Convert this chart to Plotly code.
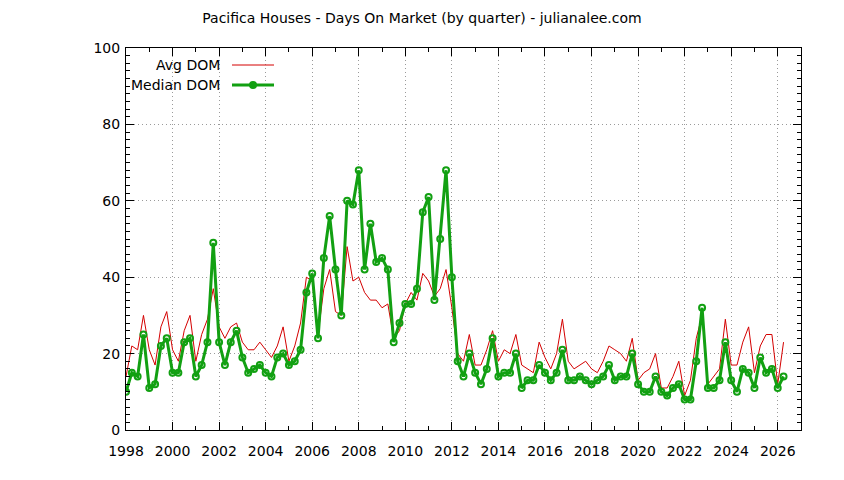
import plotly.graph_objects as go

# Quarterly data, first quarter of 1998 through second quarter of 2026
start_year = 1998
median_dom = [10, 15, 14, 25, 11, 12, 22, 24, 15, 15, 23, 24, 14, 17, 23, 49, 23, 17, 23, 26,
              19, 15, 16, 17, 15, 14, 19, 20, 17, 18, 21, 36, 41, 24, 45, 56, 42, 30, 60, 59,
              68, 42, 54, 44, 45, 42, 23, 28, 33, 33, 37, 57, 61, 34, 50, 68, 40, 18, 14, 20,
              15, 12, 16, 24, 14, 15, 15, 20, 11, 13, 13, 17, 15, 13, 15, 21, 13, 13, 14, 13,
              12, 13, 14, 17, 13, 14, 14, 20, 12, 10, 10, 14, 10, 9, 11, 12, 8, 8, 18, 32,
              11, 11, 13, 23, 13, 10, 16, 15, 11, 19, 15, 16, 11, 14]
avg_dom = [14, 22, 21, 30, 21, 17, 27, 31, 21, 18, 26, 30, 18, 25, 29, 37, 27, 24, 27, 28,
           23, 21, 21, 23, 21, 19, 22, 27, 18, 22, 28, 40, 39, 25, 37, 42, 31, 30, 48, 39,
           40, 36, 34, 34, 32, 33, 24, 26, 33, 36, 34, 41, 39, 35, 37, 42, 32, 20, 18, 25,
           17, 17, 21, 26, 18, 21, 20, 25, 17, 16, 15, 23, 19, 16, 20, 29, 18, 16, 17, 18,
           16, 15, 18, 22, 21, 20, 18, 24, 13, 15, 16, 20, 11, 11, 14, 18, 9, 13, 24, 30,
           12, 14, 16, 29, 17, 17, 23, 27, 15, 22, 25, 25, 12, 23]
quarters = [start_year + q / 4 for q in range(len(median_dom))]

x_ticks = list(range(1998, 2027, 2))
y_ticks = list(range(0, 101, 20))
title = "Pacifica Houses - Days On Market (by quarter) - julianalee.com"
series_names = ["Avg DOM", "Median DOM"]

RED = "#d40000"
GREEN = "#12a012"
FONT = "DejaVu Sans"

fig = go.Figure()
fig.add_trace(go.Scatter(x=quarters, y=avg_dom, mode="lines", name=series_names[0],
                         line=dict(color=RED, width=1), showlegend=False))
fig.add_trace(go.Scatter(x=quarters, y=median_dom, mode="lines+markers", name=series_names[1],
                         line=dict(color=GREEN, width=3),
                         marker=dict(symbol="circle-open", size=6, color=GREEN,
                                     line=dict(width=2, color=GREEN)),
                         showlegend=False))

axis_common = dict(showline=True, linecolor="black", linewidth=1, mirror="allticks",
                   ticks="inside", tickcolor="black", tickfont=dict(family=FONT, size=14, color="black"),
                   showgrid=True, gridcolor="#9a9a9a", griddash="1px,3px", gridwidth=1, zeroline=False)

fig.update_xaxes(range=[1998, 2027], tickvals=x_ticks, ticklen=8, ticklabelstandoff=8,
                 minor=dict(dtick=1, tick0=1998, ticks="inside", ticklen=4, tickcolor="black", showgrid=False),
                 **axis_common)
fig.update_yaxes(range=[0, 100], tickvals=y_ticks, ticklen=8, ticklabelstandoff=2,
                 minor=dict(dtick=2, tick0=0, ticks="inside", ticklen=4, tickcolor="black", showgrid=False),
                 **axis_common)

# manual legend (text left of sample, as in reference)
def px2x(px):
    return (px - 126) / 675

def py2y(py):
    return (430 - py) / 382

legend_rows = [(series_names[0], 65, RED, 1, False), (series_names[1], 85, GREEN, 3, True)]
for name, py, col, w, mk in legend_rows:
    fig.add_annotation(x=px2x(222), y=py2y(py), xref="paper", yref="paper", text=name,
                       showarrow=False, xanchor="right", yanchor="middle",
                       font=dict(family=FONT, size=14, color="black"))
    fig.add_shape(type="line", xref="paper", yref="paper", x0=px2x(232), x1=px2x(274),
                  y0=py2y(py), y1=py2y(py), line=dict(color=col, width=w))
    if mk:
        fig.add_shape(type="circle", xref="paper", yref="paper",
                      x0=px2x(250), x1=px2x(256), y0=py2y(py - 3), y1=py2y(py + 3),
                      line=dict(color=GREEN, width=2), fillcolor=GREEN)

fig.update_layout(
    width=844, height=480,
    margin=dict(l=126, r=43, t=48, b=50),
    paper_bgcolor="white", plot_bgcolor="white",
    title=dict(text=title, x=0.5, xref="container", xanchor="center", y=0.962, yanchor="middle",
               font=dict(family=FONT, size=14, color="black")),
)

fig.write_html("out.html")
